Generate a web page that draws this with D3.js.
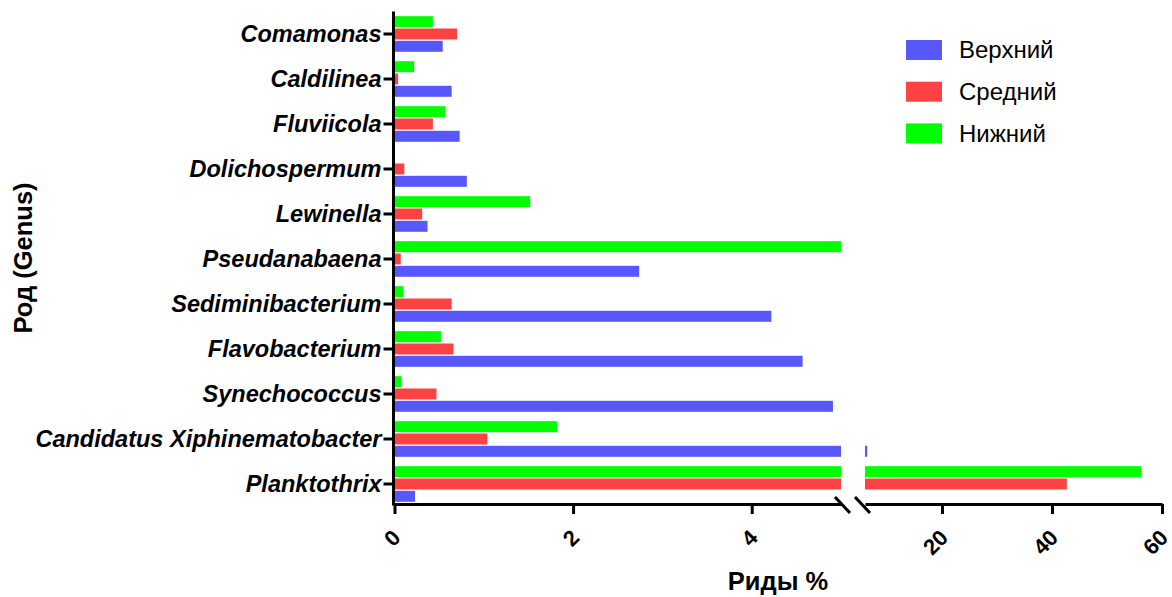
<!DOCTYPE html>
<html>
<head>
<meta charset="utf-8">
<script src="https://cdn.jsdelivr.net/npm/d3@7"></script>
<style>
  html, body { margin: 0; padding: 0; background: #fff; }
  svg { display: block; }
  text { font-family: "Liberation Sans", Arial, Helvetica, sans-serif; fill: #000; }
</style>
</head>
<body>
<svg id="chart" width="1172" height="597"></svg>
<script>
// Genera, top to bottom
const categories = [
  "Comamonas", "Caldilinea", "Fluviicola", "Dolichospermum", "Lewinella",
  "Pseudanabaena", "Sediminibacterium", "Flavobacterium", "Synechococcus",
  "Candidatus Xiphinematobacter", "Planktothrix"
];

const seriesNames = ["Верхний", "Средний", "Нижний"];
const seriesColors = ["#5858FA", "#FC4242", "#00FF00"];

// Relative abundance, %
const upper  = [0.54, 0.64, 0.73, 0.81, 0.37, 2.74, 4.22, 4.57, 4.91, 6.4, 0.23];
const middle = [0.70, 0.04, 0.43, 0.11, 0.31, 0.07, 0.64, 0.66, 0.47, 1.04, 42.7];
const lower  = [0.43, 0.22, 0.57, 0.00, 1.52, 5.00, 0.10, 0.52, 0.08, 1.82, 56.2];

const ticksLow  = [0, 2, 4];
const ticksHigh = [20, 40, 60];

const xTitle = "Риды %";
const yTitle = "Род (Genus)";

const seriesValues = [upper, middle, lower];

const svg = d3.select("#chart");

// Broken x axis: two linear segments
const xLow  = d3.scaleLinear().domain([0, 5]).range([394.5, 841]);
const xHigh = d3.scaleLinear().domain([6, 60]).range([865, 1162]);

const y = d3.scaleBand().domain(categories).range([11.5, 506.5]).padding(0);
const barH = 11;
const barStep = 12.3;
// vertical offset of each series inside a group: Нижний on top, Верхний at bottom
const offsets = [barStep, 0, -barStep];

const axisY = 504;

// Bars
const gBars = svg.append("g");
seriesValues.forEach((vals, s) => {
  const rows = categories.map((c, i) => ({ c, v: vals[i] }));
  const cy = d => y(d.c) + y.bandwidth() / 2 + offsets[s];
  // lower segment
  gBars.selectAll(null)
    .data(rows.filter(d => d.v > 0))
    .join("rect")
    .attr("x", xLow(0))
    .attr("y", d => cy(d) - barH / 2)
    .attr("width", d => xLow(Math.min(d.v, 5)) - xLow(0))
    .attr("height", barH)
    .attr("fill", seriesColors[s]);
  // upper segment
  gBars.selectAll(null)
    .data(rows.filter(d => d.v > 6))
    .join("rect")
    .attr("x", xHigh(6))
    .attr("y", d => cy(d) - barH / 2)
    .attr("width", d => xHigh(Math.min(d.v, 60)) - xHigh(6))
    .attr("height", barH)
    .attr("fill", seriesColors[s]);
});

// X axes
function styleXAxis(g) {
  g.select(".domain").attr("stroke", "#000").attr("stroke-width", 3);
  g.selectAll(".tick line").attr("stroke", "#000").attr("stroke-width", 3);
  g.selectAll(".tick text")
    .attr("x", null).attr("y", null).attr("dy", null)
    .attr("text-anchor", "end")
    .attr("transform", "translate(7,35) rotate(-45)")
    .style("font-size", "22px")
    .style("font-weight", "bold");
}

svg.append("g")
  .attr("transform", `translate(0,${axisY})`)
  .call(d3.axisBottom(xLow).tickValues(ticksLow).tickSize(10).tickSizeOuter(0).tickFormat(d3.format("d")))
  .call(styleXAxis);

svg.append("g")
  .attr("transform", `translate(0,${axisY})`)
  .call(d3.axisBottom(xHigh).tickValues(ticksHigh).tickSize(10).tickSizeOuter(0).tickFormat(d3.format("d")))
  .call(styleXAxis);

// Axis break marks
const breakMarks = [[835, 850], [855, 870]];
svg.append("g").selectAll("line")
  .data(breakMarks)
  .join("line")
  .attr("x1", d => d[0]).attr("y1", axisY - 7)
  .attr("x2", d => d[1]).attr("y2", axisY + 9)
  .attr("stroke", "#000").attr("stroke-width", 3);

// Y axis
const gy = svg.append("g")
  .attr("transform", "translate(393.5,0)")
  .call(d3.axisLeft(y).tickSize(10).tickSizeOuter(0).tickPadding(2));
gy.select(".domain").attr("stroke", "#000").attr("stroke-width", 3)
  .attr("d", `M0,11.5V${axisY + 1.5}`);
gy.selectAll(".tick line").attr("stroke", "#000").attr("stroke-width", 3);
gy.selectAll(".tick text")
  .style("font-size", "23.5px")
  .style("font-weight", "bold")
  .style("font-style", "italic");

// Axis titles
svg.append("text")
  .attr("x", 778).attr("y", 590)
  .attr("text-anchor", "middle")
  .style("font-size", "25.5px").style("font-weight", "bold")
  .text(xTitle);

svg.append("text")
  .attr("transform", "translate(32,258) rotate(-90)")
  .attr("text-anchor", "middle")
  .style("font-size", "25.5px").style("font-weight", "bold")
  .text(yTitle);

// Legend
const legend = svg.append("g").attr("transform", "translate(906,40)");
const li = legend.selectAll("g")
  .data(seriesNames)
  .join("g")
  .attr("transform", (d, i) => `translate(0,${i * 41.7})`);
li.append("rect")
  .attr("width", 36).attr("height", 20)
  .attr("fill", (d, i) => seriesColors[i]);
li.append("text")
  .attr("x", 53).attr("y", 10).attr("dy", "0.35em")
  .style("font-size", "24px")
  .text(d => d);
</script>
</body>
</html>
